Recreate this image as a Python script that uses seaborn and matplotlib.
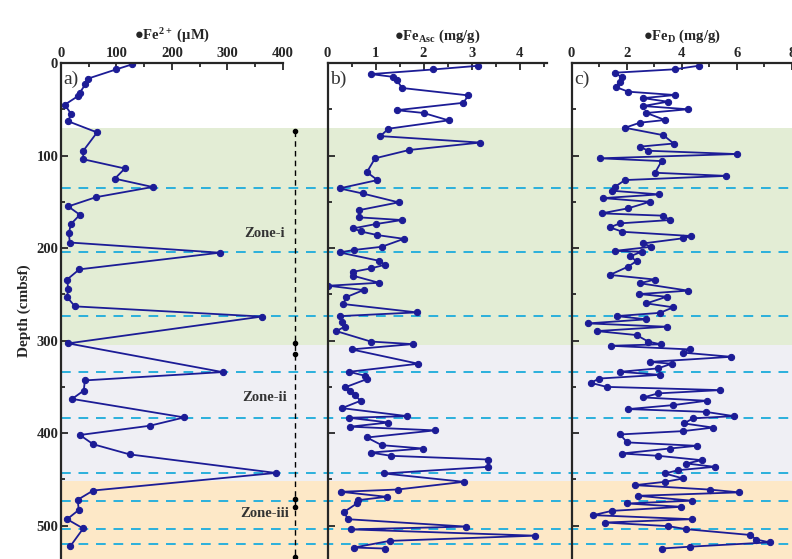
import numpy as np
import pandas as pd
import matplotlib.pyplot as plt
import seaborn as sns

sns.set_style("ticks")
plt.rcParams["font.family"] = ["Liberation Serif", "DejaVu Sans"]
plt.rcParams["font.weight"] = "bold"
plt.rcParams["mathtext.fontset"] = "custom"
plt.rcParams["mathtext.rm"] = "Liberation Serif:bold"
plt.rcParams["mathtext.it"] = "Liberation Serif:bold"
plt.rcParams["mathtext.bf"] = "Liberation Serif:bold"
plt.rcParams["mathtext.default"] = "rm"

# ========== data ==========
depth_a = [1.5, 7, 17, 23, 32, 36, 45, 55, 63, 75,
           95, 104, 114, 125, 134, 145, 155, 164, 174, 184,
           194, 205, 223, 234, 244, 253, 263, 274, 303, 334,
           343, 354, 363, 383, 392, 402, 412, 423, 443, 462,
           472, 483, 493, 503, 522]
fe2 = [128, 99, 48, 44, 34, 30, 7, 18, 13, 65,
       40, 40, 115, 97, 165, 63, 13, 34, 18, 14,
       16, 286, 33, 11, 13, 11, 25, 362, 13, 291,
       43, 41, 20, 222, 160, 34, 58, 124, 387, 58,
       30, 32, 11, 40, 17]

depth_b = [3, 7, 12, 15, 18, 27, 35, 43, 51, 54,
           62, 71, 79, 86, 94, 103, 118, 126.5, 135.5, 141,
           150.6, 159, 166.8, 169.7, 174, 178.7, 182, 186, 190, 198.6,
           202, 204.7, 213.7, 218, 222, 225.6, 230, 237.5, 240.7, 245.4,
           253, 260.5, 269.5, 273.5, 279.6, 285, 289.7, 301, 303.8, 309.5,
           325, 333.7, 338, 341.6, 350.6, 354, 359, 365, 373, 381.6,
           383.4, 388.5, 393, 397, 404.7, 413, 416.6, 421, 424.5, 428.5,
           436.4, 443.6, 452.6, 460.9, 463.4, 468.8, 472.4, 476, 485, 493,
           501, 504, 510.8, 516.4, 523.6, 524.7]
fe_asc = [3.14, 2.2, 0.9, 1.37, 1.44, 1.55, 2.93, 2.83, 1.44, 2.0,
          2.52, 1.27, 1.1, 3.18, 1.7, 0.99, 0.82, 1.04, 0.25, 0.73,
          1.48, 0.66, 0.66, 1.55, 1.01, 0.54, 0.69, 1.04, 1.59, 1.13,
          0.56, 0.25, 1.07, 1.2, 0.9, 0.54, 0.54, 1.07, 0.02, 0.75,
          0.39, 0.33, 1.86, 0.27, 0.3, 0.36, 0.18, 0.9, 1.77, 0.5,
          1.89, 0.45, 0.78, 0.82, 0.36, 0.47, 0.57, 0.69, 0.3, 1.66,
          0.45, 1.27, 0.47, 2.24, 0.82, 1.13, 1.98, 0.9, 1.32, 3.35,
          3.35, 1.18, 2.84, 1.46, 0.28, 1.23, 0.64, 0.61, 0.35, 0.42,
          2.89, 0.48, 4.32, 1.3, 0.55, 1.2]

depth_c = [2.9, 6.8, 10.5, 15.5, 20, 26, 31, 34.6, 38, 41.8,
           46.5, 50, 54, 61.6, 64.5, 70, 78, 87, 90.4, 94.8,
           98.4, 103, 106, 118.6, 122, 126.5, 133.7, 138, 142, 146,
           150, 157, 162.5, 165, 169.7, 173.3, 177.6, 182.4, 187, 189.5,
           195, 198.6, 203, 204, 209, 214, 220, 229, 234, 238,
           246, 249.7, 252.6, 259.8, 264, 270, 273.5, 277, 281.4, 285,
           289.7, 294, 301, 304, 305.6, 309.5, 313, 317.5, 323, 325,
           330, 333.7, 337, 341, 345.6, 350, 353.5, 357, 361.4, 365,
           369.7, 374, 377, 381.6, 384, 389.5, 394, 397.8, 401.4, 410,
           413.7, 416.6, 422, 424.5, 429.2, 432.8, 436.4, 440, 443.6, 449,
           452.6, 456.2, 461, 464, 467.7, 473, 476, 479.6, 484, 488.6,
           493, 496.6, 500.5, 503.8, 510, 515, 518, 522.7, 524.7]
fe_d = [4.63, 3.75, 1.58, 1.82, 1.76, 1.61, 2.06, 3.75, 2.6, 3.5,
        2.6, 4.23, 2.72, 3.39, 2.48, 1.94, 3.33, 3.71, 2.48, 2.78,
        5.99, 1.03, 3.27, 3.03, 5.62, 1.94, 1.58, 1.46, 3.18, 1.15,
        2.84, 2.06, 1.09, 3.33, 3.57, 1.76, 1.39, 1.85, 4.35, 4.03,
        2.6, 2.9, 1.58, 2.54, 2.12, 2.36, 2.06, 1.39, 3.03, 2.48,
        4.23, 2.46, 3.45, 2.72, 3.69, 3.21, 1.64, 2.72, 0.59, 3.45,
        0.91, 2.36, 2.78, 3.23, 1.42, 4.29, 4.05, 5.8, 2.84, 3.63,
        3.14, 1.76, 3.2, 1.0, 0.7, 1.27, 5.4, 3.15, 2.6, 4.9,
        3.69, 2.06, 4.87, 5.89, 4.41, 4.08, 5.14, 4.05, 1.76, 2.02,
        4.54, 3.57, 1.82, 3.15, 4.72, 4.17, 5.2, 3.87, 3.39, 4.05,
        3.39, 2.3, 5.02, 6.08, 2.42, 4.36, 2.02, 3.99, 1.46, 0.79,
        4.36, 1.21, 3.51, 4.17, 6.47, 6.71, 7.19, 4.29, 3.27]

zone_edges = [70, 305, 452, 540]
zone_names = ["Zone-i", "Zone-ii", "Zone-iii"]
zone_label_depth = [184, 361, 487]
zone_colors = ["#e3edd5", "#efeff4", "#fde8c7"]
boundary_depths = [135, 204, 273.5, 334, 384, 443, 473, 504, 520]
marker_depths = [73, 303, 314, 471, 480, 534]

NAVY = "#1c1c96"
W, H = 792, 559
Y_TOP = 63
DEPTH_MAX = 536

fig = plt.figure(figsize=(W / 100, H / 100), dpi=100)


def fx(px):
    return px / W


ax_h = 1 - Y_TOP / H

# ========== background (zones, boundaries) ==========
bg = fig.add_axes([fx(61), 0, fx(W - 61), ax_h], zorder=0)
bg_xmax = 400 * (W - 61) / (283 - 61)
bg.set_xlim(0, bg_xmax)
bg.set_ylim(DEPTH_MAX, 0)
for i in range(3):
    bg.axhspan(zone_edges[i], zone_edges[i + 1], color=zone_colors[i], lw=0)
for d in boundary_depths:
    bg.axhline(d, color="#2ab0dc", lw=1.4, ls=(0, (5, 4)), zorder=2)
bg.plot([422, 422], [marker_depths[0], DEPTH_MAX], color="black", lw=1.0,
        ls=(0, (4, 3)), zorder=3)
bg.plot([422] * len(marker_depths), marker_depths, "o", color="black", ms=3, zorder=3)
for name, d in zip(zone_names, zone_label_depth):
    bg.text(367, d, name, ha="center", va="center", fontsize=10.5,
            fontweight="bold", color="#333333", zorder=4)
bg.axis("off")

# ========== data panels ==========
panels = [
    (61, 283, depth_a, fe2, (0, 400), 100, 50, "Fe$^{2+}$ (µM)", "a)"),
    (327.5, 547, depth_b, fe_asc, (0, 4.57), 1, 0.5, "Fe$_{\\rm Asc}$ (mg/g)", "b)"),
    (571.5, 792, depth_c, fe_d, (0, 8), 2, 1, "Fe$_{\\rm D}$ (mg/g)", "c)"),
]

for k, (x0, x1, dep, val, xlim, major, minor, label, tag) in enumerate(panels):
    ax = fig.add_axes([fx(x0), 0, fx(x1 - x0), ax_h], zorder=2)
    ax.set_facecolor("none")
    df = pd.DataFrame({"depth": dep, "value": val})
    sns.lineplot(data=df, x="value", y="depth", sort=False, estimator=None,
                 orient="y", color=NAVY, lw=1.3, marker="o", ms=4.5,
                 markeredgecolor=NAVY, ax=ax)
    ax.set_xlim(*xlim)
    ax.set_ylim(DEPTH_MAX, 0)
    ax.xaxis.tick_top()
    ax.xaxis.set_label_position("top")
    ax.set_xticks(np.arange(0, xlim[1] + 1e-9, major))
    ax.set_xticks(np.arange(0, xlim[1] + 1e-9, minor), minor=True)
    ax.set_yticks(np.arange(0, 501, 100))
    ax.set_yticks(np.arange(0, 536, 50), minor=True)
    ax.tick_params(which="both", direction="in", width=1.3, labelsize=10.5, pad=2)
    ax.tick_params(which="major", length=5)
    ax.tick_params(which="minor", length=3)
    for s in ["right", "bottom"]:
        ax.spines[s].set_visible(False)
    for s in ["top", "left"]:
        ax.spines[s].set_linewidth(1.6)
    ax.set_xlabel("●" + label, fontsize=10.5, fontweight="bold", labelpad=5)
    if k == 0:
        ax.set_ylabel("Depth (cmbsf)", fontsize=11, fontweight="bold", labelpad=4)
    else:
        ax.set_ylabel("")
        ax.set_yticklabels([])
    ax.text(0.012, 0.985, tag, transform=ax.transAxes, ha="left", va="top",
            fontsize=14, fontweight="normal", color="#333333")
    for t in ax.get_xticklabels() + ax.get_yticklabels():
        t.set_fontweight("bold")

fig.savefig("out.png", dpi=100)
